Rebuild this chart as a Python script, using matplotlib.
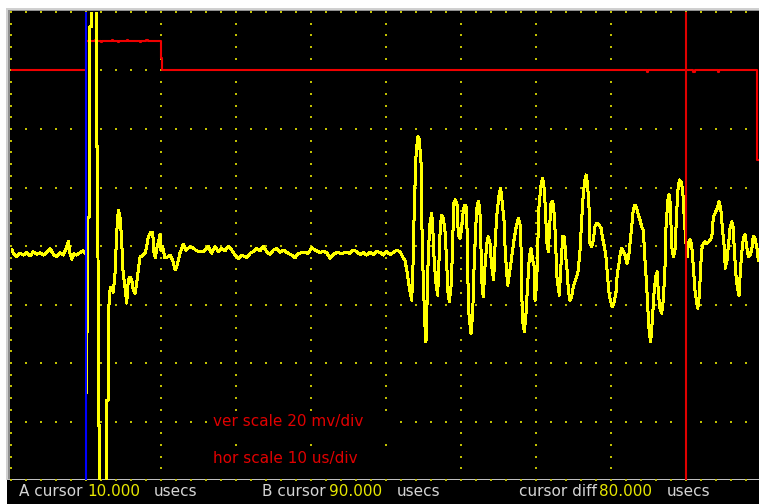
import matplotlib
matplotlib.use("Agg")
import matplotlib.pyplot as plt
from matplotlib.patches import Rectangle
import numpy as np

# ---------------- data (time in microseconds, voltage in mV) ----------------
ch1_t = [0.0, 0.13, 0.35, 0.8, 1.24, 1.68, 2.13, 2.57, 3.01, 3.47, 3.91, 4.35, 4.8, 5.24,
         5.68, 6.13, 6.57, 7.01, 7.47, 7.68, 7.91, 8.13, 8.44, 8.8, 9.24, 9.68, 10.04,
         10.15, 10.22, 10.5, 10.55, 10.75, 10.8, 11.42, 11.47, 11.62, 11.67, 11.87, 11.92,
         12.75, 12.8, 12.98, 13.03,
         13.24, 13.37, 13.68, 13.91, 14.13, 14.35, 14.57, 14.8, 14.93, 15.11, 15.33, 15.47,
         15.68, 15.91, 16.13, 16.35, 16.57, 16.8, 17.01, 17.24, 17.68, 17.91, 18.13, 18.35,
         18.67, 18.93, 19.11, 19.28, 19.47, 19.68, 19.91, 20.04, 20.27, 20.57, 20.88, 21.24,
         21.6, 21.91, 22.21, 22.57, 23.01, 23.37, 23.91, 24.35, 24.8,
         25.68, 26.35, 26.8, 27.24, 27.68, 28.13, 28.57, 29.01, 29.47, 29.91, 30.35, 30.8,
         31.47, 31.91, 32.35, 32.8, 33.24, 33.68, 34.13, 34.57, 35.01, 35.47, 35.91, 36.35,
         37.01, 37.47, 37.91, 38.35, 39.01, 39.68, 40.13, 40.57, 41.24, 41.68, 42.13, 42.57,
         43.01, 43.47, 44.13, 44.8, 45.24, 45.68, 46.13, 46.57, 47.01, 47.47, 47.91, 48.35,
         48.8, 49.24, 49.68, 50.13, 50.57, 51.01, 51.47, 51.91, 52.35,
         52.57, 52.8, 53.01, 53.24, 53.47, 53.68, 53.81, 54.04, 54.27, 54.48, 54.71, 54.8,
         55.01, 55.24, 55.37, 55.55, 55.68, 55.91, 56.13, 56.27, 56.48, 56.71, 56.93, 57.15,
         57.28, 57.47, 57.68, 57.91, 58.13, 58.27, 58.48, 58.71, 58.88, 59.07, 59.28, 59.51,
         59.68, 59.91, 60.13, 60.35, 60.57, 60.8, 60.93, 61.11, 61.37, 61.6, 61.77, 62.0,
         62.21, 62.4, 62.61, 62.8, 63.01, 63.24, 63.47, 63.68, 63.91, 64.13, 64.4, 64.57,
         64.8, 65.11, 65.33, 65.55, 65.77, 65.91, 66.13, 66.27, 66.48, 66.8, 67.11, 67.37,
         67.68, 68.0, 68.13, 68.27, 68.48, 68.71, 68.93, 69.15, 69.37, 69.6, 69.81, 69.91,
         70.13, 70.27, 70.44, 70.71, 70.93, 71.15, 71.33, 71.47, 71.68, 71.87, 72.04, 72.27,
         72.48, 72.67, 72.8, 73.01, 73.15, 73.37, 73.6, 73.81, 74.0, 74.21, 74.35, 74.57,
         74.8, 75.01, 75.24, 75.47, 75.68, 75.91, 76.13, 76.35, 76.57, 76.75, 76.93, 77.11,
         77.24, 77.47, 77.68, 77.91, 78.13, 78.44, 78.71, 78.88, 79.15, 79.37, 79.55, 79.73,
         79.95, 80.21, 80.48, 80.71, 80.88, 81.11, 81.28, 81.47, 81.68, 81.91, 82.17, 82.4,
         82.57, 82.8, 83.01, 83.24, 83.47, 83.68, 83.91, 84.13, 84.35, 84.57, 84.8, 85.01,
         85.15, 85.33, 85.55, 85.77, 86.0, 86.21, 86.35, 86.57, 86.8, 87.01, 87.24, 87.37,
         87.6, 87.77, 87.95, 88.13, 88.35, 88.57, 88.75, 88.93, 89.15, 89.37, 89.6, 89.77,
         90.0, 90.21, 90.35, 90.57, 90.8, 91.01, 91.24, 91.47, 91.6, 91.81, 92.0, 92.13,
         92.35, 92.57, 92.8, 93.11, 93.37, 93.55, 93.68, 93.91, 94.21, 94.44, 94.67, 94.88,
         95.11, 95.28, 95.51, 95.68, 95.91, 96.13, 96.31, 96.48, 96.67, 96.88, 97.11, 97.28,
         97.47, 97.68, 97.91, 98.13, 98.35, 98.57, 98.8, 99.01, 99.24, 99.47, 99.68]
ch1_v = [-1.4, -1.1, -2.5, -3.7, -2.5, -3.1, -2.3, -3.4, -2.0, -2.8, -2.3, -3.1, -2.3, -0.8,
         -2.8, -3.7, -2.3, -3.1, -0.4, 1.7, -2.5, -4.5, -2.7, -3.1, -2.3, -1.6, -2.8,
         -50.0, 9.9, 9.9, 75.0, 75.0, 100.0, 100.0, 33.9, 33.9, -61.3, -61.3, -100.0,
         -100.0, -52.7, -52.7, -22.9,
         -15.1, -14.0, -15.8, -9.2, 4.5, 12.3, 9.9, 2.1, -7.2, -11.6, -16.1, -19.5,
         -11.6, -10.6, -11.6, -15.1, -16.1, -12.7, -8.2, -3.8, -3.1, -2.4, -0.3, 3.1,
         4.8, 4.5, -2.4, -4.1, -0.7, 1.0, 3.8, -1.4, -0.3, -4.1, -3.8, -3.1,
         -4.8, -8.2, -6.5, -2.4, 0.7, -1.4, -0.3, -0.7, -1.7,
         -1.9, -0.2, -2.5, -0.2, -1.9, -0.8, -1.7, -0.2, -1.4, -3.1, -4.2, -3.1,
         -4.0, -2.5, -1.9, -0.8, -1.7, -0.2, -1.9, -2.9, -1.4, -0.8, -2.2, -1.4,
         -2.5, -3.1, -4.0, -2.5, -2.2, -2.5, -0.6, -1.4, -2.2, -1.9, -2.2, -4.2,
         -2.9, -2.2, -2.5, -2.2, -2.5, -1.4, -1.9, -2.9, -2.2, -3.1, -2.2, -2.9,
         -1.9, -2.2, -3.1, -1.9, -2.9, -2.2, -1.4, -1.9, -4.2,
         -4.8, -8.2, -11.6, -15.7, -18.5, -3.7, 13.5, 30.6, 37.4, 36.3, 28.3, 10.0,
         -12.2, -27.6, -32.8, -16.1, -2.4, 7.9, 11.2, 6.6, -5.9, -12.8, -16.8, -2.4,
         6.6, 10.6, 9.5, 4.9, -5.4, -15.1, -19.1, -13.9, -3.7, 14.6, 15.8, 14.0,
         3.8, 2.6, 6.1, 12.3, 14.0, 12.9, -9.3, -23.6, -29.9, -23.0, -8.2, 6.6,
         14.6, 15.2, 10.0, -11.6, -17.4, -7.1, 0.9, 3.2, 0.9, -7.1, -11.6, -0.2,
         10.0, 17.5, 19.8, 14.6, 8.9, -0.2, -9.3, -13.4, -9.9, -3.7, 2.1, 6.1,
         9.5, 6.6, -15.7, -25.9, -29.3, -23.0, -12.8, -3.7, -0.8, -4.8, -7.1, -18.5,
         -12.8, -0.2, 13.5, 20.9, 23.2, 19.2, 10.6, 1.5, -2.0, 7.2, 14.6, 15.2,
         10.6, 0.3, -9.9, -13.9, -16.8, -6.5, 3.2, 3.2, -3.7, -8.8, -15.1, -18.5,
         -17.4, -13.9, -12.2, -10.5, -8.2, -1.4, 8.9, 18.0, 22.6, 24.3, 20.3, 12.9,
         0.9, -0.2, 2.1, 6.6, 7.8, 7.2, 6.1, 3.2, -0.2, -3.7, -9.3, -15.1,
         -18.5, -20.8, -19.1, -15.7, -9.3, -5.9, -2.5, -0.8, -2.0, -3.1, -5.9, -3.7,
         0.9, 6.6, 12.3, 14.0, 12.9, 10.6, 8.9, 6.6, 5.5, -4.8, -13.9, -24.2,
         -29.9, -32.8, -25.3, -16.2, -10.5, -8.8, -16.2, -21.3, -23.0, -18.5, -7.1, 6.1,
         15.2, 17.5, 14.6, -0.2, -3.7, -1.4, 8.9, 18.6, 22.6, 22.0, 19.2, 11.2,
         2.1, -3.7, 0.9, 2.1, 0.3, -7.1, -15.1, -19.6, -21.3, -17.4, -7.1, -1.4,
         0.9, 1.5, 0.9, 1.5, 2.6, 4.3, 10.0, 11.2, 12.9, 15.2, 12.9, 6.6,
         0.3, -7.6, -4.8, -0.2, 6.1, 8.3, 6.6, -0.8, -9.3, -13.9, -16.8, -8.8,
         -2.5, 2.6, 3.8, -0.2, -3.7, -3.1, -1.4, 3.2, 2.6, -0.2, -4.8]

ch2_t = [0, 10.05, 11.3, 11.5, 12.0, 12.2, 13.5, 13.7, 14.3, 14.5, 15.5, 15.7, 17.2, 17.4,
         18.1, 18.3, 20.0, 20.2, 84.8, 85.0, 91.0, 91.2, 94.3, 94.5, 99.5, 100.0]
ch2_v = [60, 70, 70.4, 70, 69.6, 70, 70.4, 70, 69.6, 70, 70.4, 70, 69.6, 70,
         70.4, 70, 64.3, 60, 59.6, 60, 59.6, 60, 59.6, 60, 29.5, 29.5]

cursor_a = 10.0   # usecs
cursor_b = 90.0   # usecs
ver_scale = 20    # mV/div
hor_scale = 10    # us/div

# ---------------- figure ----------------
W, H = 759, 504
fig = plt.figure(figsize=(W / 100, H / 100), dpi=100)
fig.patch.set_facecolor("white")


def rect(x0, y0, x1, y1, color):
    fig.patches.append(Rectangle((x0 / W, 1 - y1 / H), (x1 - x0) / W, (y1 - y0) / H,
                                 transform=fig.transFigure, facecolor=color,
                                 edgecolor="none", zorder=-5))


rect(6, 8, W, 480, "#d0d0d0")
rect(8, 10, W, 480, "#909090")
rect(10, 11, W, 480, "black")
rect(7, 479, W, 504, "#c0c0c0")
rect(7, 480, W, 504, "black")

ax = fig.add_axes([10.7 / W, 24 / H, (W - 10.7) / W, 468 / H])
ax.set_xlim(0, (W - 10.7) / 7.5)
ax.set_ylim(-4 * ver_scale, 4 * ver_scale)
ax.axis("off")

# dotted graticule
gx, gy = [], []
for t in np.arange(0, 101, hor_scale):
    for v in np.arange(-80, 81, ver_scale / 5):
        gx.append(t); gy.append(v)
for v in np.arange(-80, 81, ver_scale):
    for t in np.arange(0, 101, hor_scale / 5):
        gx.append(t); gy.append(v)
ax.scatter(gx, gy, marker="s", s=1.4, color="#c0c000", linewidths=0, zorder=1,
           clip_on=False)

# black label boxes
for y0, h in [(0.0876, 0.0556), (0.0171, 0.0491)]:
    ax.add_patch(Rectangle((0.2677, y0), 0.2432, h, transform=ax.transAxes,
                           facecolor="black", edgecolor="none", zorder=1.5))

ax.plot(ch2_t, ch2_v, color="#f00000", lw=1.5, drawstyle="steps-post", zorder=2)
ax.plot(ch1_t, ch1_v, color="#ffff00", lw=1.44, zorder=3, antialiased=False)
ax.axvline(cursor_a, color="#0000ff", lw=1.5, zorder=4)
ax.axvline(cursor_b, color="#e00000", lw=1.5, zorder=4)

# texts
fig.text(213 / W, 1 - 421.5 / H, f"ver scale {ver_scale} mv/div", color="#e00000",
         fontsize=11, va="center", ha="left")
fig.text(213 / W, 1 - 458.5 / H, f"hor scale {hor_scale} us/div", color="#e00000",
         fontsize=11, va="center", ha="left")

grey = "#d4d4d4"
yel = "#e8e800"
yb = 1 - 491 / H
fig.text(19 / W, yb, "A cursor", color=grey, fontsize=11, va="center")
fig.text(87 / W, yb, f"{cursor_a:.3f}", color=yel, fontsize=11, va="center")
fig.text(154 / W, yb, "usecs", color=grey, fontsize=11, va="center")
fig.text(262 / W, yb, "B cursor", color=grey, fontsize=11, va="center")
fig.text(329 / W, yb, f"{cursor_b:.3f}", color=yel, fontsize=11, va="center")
fig.text(397 / W, yb, "usecs", color=grey, fontsize=11, va="center")
fig.text(519 / W, yb, "cursor diff", color=grey, fontsize=11, va="center")
fig.text(599 / W, yb, f"{cursor_b - cursor_a:.3f}", color=yel, fontsize=11, va="center")
fig.text(667 / W, yb, "usecs", color=grey, fontsize=11, va="center")

fig.savefig("out.png", dpi=100, facecolor=fig.get_facecolor())
